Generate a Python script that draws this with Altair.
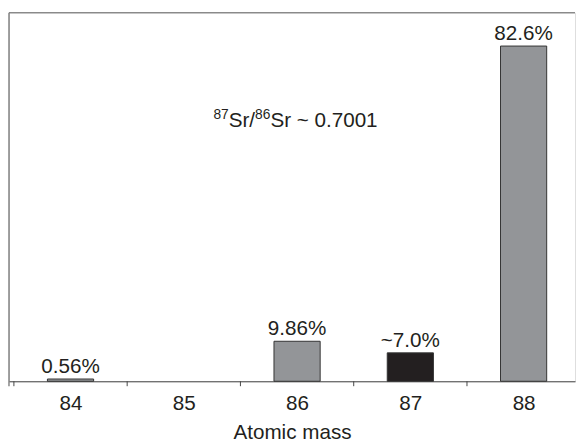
import altair as alt
import pandas as pd

# ---- data ----
tick_masses = [84, 85, 86, 87, 88]
bar_masses = [84, 86, 87, 88]
bar_pct = [0.56, 9.86, 7.0, 82.6]
bar_labels = ["0.56%", "9.86%", "~7.0%", "82.6%"]
bar_colors = ["#939598", "#939598", "#231f20", "#939598"]
boundaries = [83.5, 84.5, 85.5, 86.5, 87.5]

W, H = 576, 375
STEP = 117.3
FONT = "Liberation Sans"
TXT = "#231f20"
FS = 21

bars_df = pd.DataFrame({"mass": bar_masses, "pct": bar_pct,
                        "label": bar_labels, "color": bar_colors})
bnd_df = pd.DataFrame({"b": boundaries})
one = pd.DataFrame({"k": [0]})

xscale = alt.Scale(domain=[83.5, 83.5 + W / STEP], nice=False, zero=False)
yscale = alt.Scale(domain=[0, 90.8], nice=False)

xaxis = alt.Axis(values=tick_masses, ticks=False, grid=False, format="d",
                 domainColor="#444444", domainWidth=1,
                 labelFont=FONT, labelFontSize=FS, labelColor=TXT,
                 labelPadding=12, labelFlush=False,
                 title="Atomic mass", titleFont=FONT, titleFontSize=FS,
                 titleFontWeight="normal", titleColor=TXT, titlePadding=8)

bars = alt.Chart(bars_df).mark_bar(size=47, stroke="#333333", strokeWidth=1).encode(
    x=alt.X("mass:Q", scale=xscale, axis=xaxis),
    y=alt.Y("pct:Q", scale=yscale, axis=None),
    color=alt.Color("color:N", scale=None),
)

vlabels = alt.Chart(bars_df).mark_text(
    font=FONT, fontSize=FS, color=TXT, baseline="alphabetic", dy=-6
).encode(
    x=alt.X("mass:Q", scale=xscale),
    y=alt.Y("pct:Q", scale=yscale),
    text="label:N",
)

ticks = alt.Chart(bnd_df).mark_rule(color="#444444", strokeWidth=1).encode(
    x=alt.X("b:Q", scale=xscale),
    y=alt.value(H),
    y2=alt.value(H + 5),
)

frame_top = alt.Chart(one).mark_rule(color="#666666", strokeWidth=1.2).encode(
    x=alt.value(0), x2=alt.value(W), y=alt.value(0))
frame_left = alt.Chart(one).mark_rule(color="#666666", strokeWidth=1.2).encode(
    x=alt.value(0), y=alt.value(0), y2=alt.value(H + 5))

def piece(txt, xpos, ypos, size):
    return alt.Chart(pd.DataFrame({"t": [txt]})).mark_text(
        font=FONT, fontSize=size, color=TXT, align="left", baseline="alphabetic"
    ).encode(x=alt.value(xpos), y=alt.value(ypos), text="t:N")

ann = [
    piece("87", 208, 108, 14),
    piece("Sr/", 223.6, 116, FS),
    piece("86", 250.4, 108, 14),
    piece("Sr ~ 0.7001", 266, 116, FS),
]

chart = alt.layer(frame_top, frame_left, ticks, bars, vlabels, *ann).properties(
    width=W, height=H, padding={"left": 0, "top": 0, "right": 0, "bottom": 0}
).configure_view(stroke=None).configure(background="white")

chart.save("out.html", embed_options={"renderer": "svg", "actions": False})
